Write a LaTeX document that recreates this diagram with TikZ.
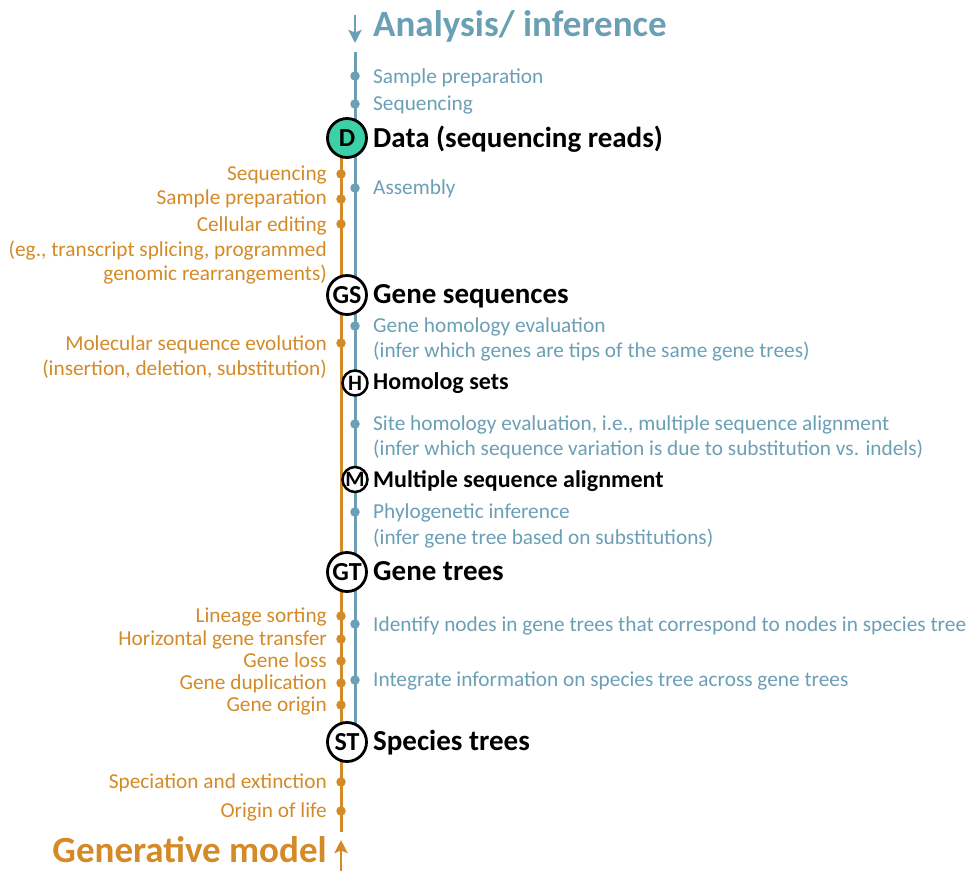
\documentclass[tikz,border=0pt]{standalone}
\usepackage{fontspec}
\setmainfont{Carlito}
\usetikzlibrary{arrows.meta}
\definecolor{ablue}{HTML}{6A9FB5}
\definecolor{gorange}{HTML}{D38A27}
\definecolor{dteal}{HTML}{3CCFA8}
\begin{document}
\begin{tikzpicture}[x=1pt,y=-1pt,
  bluetxt/.style={anchor=base west,inner sep=0,text=ablue,font=\fontsize{21.3}{24}\selectfont},
  orgtxt/.style={anchor=base east,inner sep=0,text=gorange,font=\fontsize{21.3}{24}\selectfont},
  title/.style={anchor=base west,inner sep=0,text=black,font=\fontsize{29}{32}\selectfont\bfseries},
  smalltitle/.style={anchor=base west,inner sep=0,text=black,font=\fontsize{24}{28}\selectfont\bfseries},
  bigc/.style={circle,draw=black,line width=2.8pt,fill=white,minimum size=39pt,inner sep=0,font=\fontsize{26}{28}\selectfont\bfseries},
  smallc/.style={circle,draw=black,line width=2.5pt,fill=white,minimum size=25pt,inner sep=0,font=\fontsize{22}{24}\selectfont\bfseries},
  bdot/.style={circle,fill=ablue,inner sep=0,minimum size=9.5pt},
  odot/.style={circle,fill=gorange,inner sep=0,minimum size=9.5pt},
  bline/.style={draw=ablue,line width=3pt},
  oline/.style={draw=gorange,line width=3pt},
  arr/.style={line width=2.6pt,-{Stealth[length=13pt,width=13pt,inset=2.5pt]}}
]
\useasboundingbox (0,0) rectangle (967,871);
% coordinates for lines
\coordinate (bAtop) at (355,15);
\coordinate (bAbot) at (355,43);
\coordinate (bTop) at (355,52);
\coordinate (bBot) at (355,742);
\coordinate (oTop) at (341,138);
\coordinate (oBot) at (341,832);
\coordinate (oAbot) at (341,871);
\coordinate (oAtop) at (341,840);
% lines
\draw[arr,draw=ablue,fill=ablue] (bAtop) -- (bAbot);
\draw[bline] (bTop) -- (bBot);
\draw[oline] (oTop) -- (oBot);
\draw[arr,draw=gorange,fill=gorange] (oAbot) -- (oAtop);
% blue dots and text
\foreach \y/\n in {76/b1,104/b2,188/b3,326/b4,424/b5,512/b6,624/b7,680/b8}
  \node[bdot] (\n) at (355,\y) {};
\node[bluetxt] (t1) at (373,83.5) {Sample preparation};
\node[bluetxt] (t2) at (373,110.5) {Sequencing};
\node[bluetxt] (t3) at (373,194.5) {Assembly};
\node[bluetxt] (t4) at (373,332) {Gene homology evaluation};
\node[bluetxt] (t4b) at (373,357) {(infer which genes are tips of the same gene trees)};
\node[bluetxt] (t5) at (373,430.5) {Site homology evaluation, i.e., multiple sequence alignment};
\node[bluetxt] (t5b) at (373,455.5) {(infer which sequence variation is due to substitution vs. indels)};
\node[bluetxt] (t6) at (373,518.5) {Phylogenetic inference};
\node[bluetxt] (t6b) at (373,544.5) {(infer gene tree based on substitutions)};
\node[bluetxt] (t7) at (373,631.5) {Identify nodes in gene trees that correspond to nodes in species tree};
\node[bluetxt] (t8) at (373,686.5) {Integrate information on species tree across gene trees};
% orange dots and text
\foreach \y/\n in {174/o1,199/o2,224/o3,343/o4,616/o5,639/o6,661/o7,683/o8,705/o9,782/o10,811/o11}
  \node[odot] (\n) at (341,\y) {};
\node[orgtxt] (u1) at (327,180) {Sequencing};
\node[orgtxt] (u2) at (327,204) {Sample preparation};
\node[orgtxt] (u3) at (327,231) {Cellular editing};
\node[orgtxt] (u3b) at (327,256) {(eg., transcript splicing, programmed};
\node[orgtxt] (u3c) at (327,280) {genomic rearrangements)};
\node[orgtxt] (u4) at (327,350) {Molecular sequence evolution};
\node[orgtxt] (u4b) at (327,375) {(insertion, deletion, substitution)};
\node[orgtxt] (u5) at (327,622) {Lineage sorting};
\node[orgtxt] (u6) at (327,645) {Horizontal gene transfer};
\node[orgtxt] (u7) at (327,667) {Gene loss};
\node[orgtxt] (u8) at (327,689) {Gene duplication};
\node[orgtxt] (u9) at (327,711) {Gene origin};
\node[orgtxt] (u10) at (327,788) {Speciation and extinction};
\node[orgtxt] (u11) at (327,817) {Origin of life};
% circles
\node[bigc,fill=dteal] (D) at (347,138) {D};
\node[bigc] (GS) at (347,295) {GS};
\node[smallc] (H) at (355,383) {H};
\node[smallc] (M) at (355,479.5) {M};
\node[bigc] (GT) at (347,572) {GT};
\node[bigc] (ST) at (347,742) {ST};
% titles
\node[anchor=base west,inner sep=0,text=ablue,font=\fontsize{37}{42}\selectfont\bfseries] (AI) at (373,36) {Analysis/ inference};
\node[title] (Dt) at (373,147) {Data (sequencing reads)};
\node[title] (GSt) at (373,303) {Gene sequences};
\node[smalltitle] (Ht) at (373,389) {Homolog sets};
\node[smalltitle] (Mt) at (373,487) {Multiple sequence alignment};
\node[title] (GTt) at (373,580) {Gene trees};
\node[title] (STt) at (373,750) {Species trees};
\node[anchor=base east,inner sep=0,text=gorange,font=\fontsize{37}{42}\selectfont\bfseries] (GM) at (327,862) {Generative model};
\end{tikzpicture}
\end{document}
